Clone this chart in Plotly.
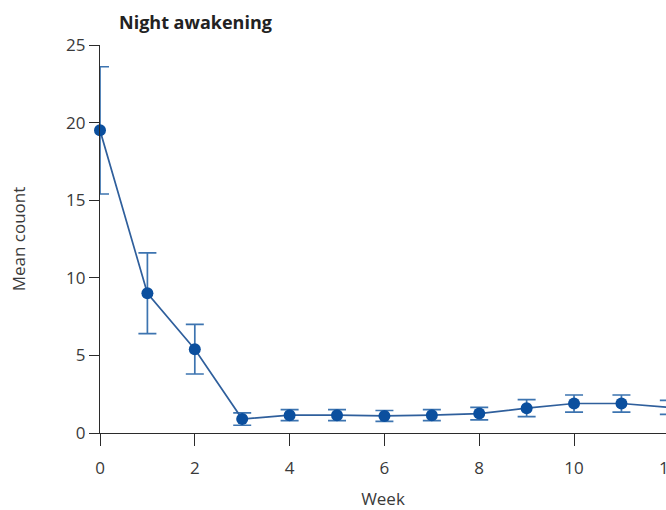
import plotly.graph_objects as go

# Mean count of night awakenings per week with error bars
weeks = [0, 1, 2, 3, 4, 5, 6, 7, 8, 9, 10, 11, 12]
mean_count = [19.5, 9.0, 5.4, 0.9, 1.15, 1.15, 1.1, 1.15, 1.25, 1.6, 1.9, 1.9, 1.65]
err_upper = [4.1, 2.6, 1.6, 0.4, 0.35, 0.35, 0.35, 0.35, 0.4, 0.55, 0.55, 0.55, 0.45]
err_lower = [4.1, 2.6, 1.6, 0.4, 0.35, 0.35, 0.35, 0.35, 0.4, 0.55, 0.55, 0.55, 0.45]
x_ticks = [0, 2, 4, 6, 8, 10]
y_ticks = [0, 5, 10, 15, 20, 25]

FONT = "Open Sans"
AXIS_COLOR = "#2b2b2b"
TEXT_COLOR = "#3a3a3a"

fig = go.Figure()
fig.add_trace(go.Scatter(
    x=weeks,
    y=mean_count,
    mode="lines+markers",
    line=dict(color="#2f5f9c", width=1.7),
    marker=dict(color="#0b4f9e", size=12),
    error_y=dict(
        type="data",
        symmetric=False,
        array=err_upper,
        arrayminus=err_lower,
        color="#3d74b0",
        thickness=1.7,
        width=9,
    ),
    cliponaxis=False,
    showlegend=False,
))

x_max = 11.94

fig.update_layout(
    width=666,
    height=510,
    margin=dict(l=100, r=0, t=45, b=77),
    paper_bgcolor="white",
    plot_bgcolor="white",
    font=dict(family=FONT, size=17, color=TEXT_COLOR),
    xaxis=dict(
        range=[0, x_max],
        tickvals=x_ticks,
        ticks="outside",
        ticklen=12,
        tickwidth=1.3,
        tickcolor=AXIS_COLOR,
        showline=True,
        linecolor=AXIS_COLOR,
        linewidth=1.3,
        showgrid=False,
        zeroline=False,
        ticklabelstandoff=7,
        tickfont=dict(size=17, color=TEXT_COLOR),
        title=dict(text="Week", font=dict(size=17, color=TEXT_COLOR), standoff=16),
    ),
    yaxis=dict(
        range=[0, 25],
        tickvals=y_ticks,
        ticks="outside",
        ticklen=10,
        tickwidth=1.3,
        tickcolor=AXIS_COLOR,
        showline=True,
        linecolor=AXIS_COLOR,
        linewidth=1.3,
        showgrid=False,
        zeroline=False,
        tickfont=dict(size=17, color=TEXT_COLOR),
        title=dict(text="Mean couont", font=dict(size=17, color=TEXT_COLOR), standoff=36),
    ),
    annotations=[
        dict(
            text="<b>Night awakening</b>",
            xref="paper", yref="paper",
            x=17 / 566, y=1,
            xanchor="left", yanchor="bottom",
            yshift=9,
            showarrow=False,
            font=dict(family=FONT, size=18, color="#222222"),
        ),
        # tick label for week 12, which sits on the right edge of the page
        dict(
            text="12",
            xref="paper", yref="paper",
            x=12 / x_max, y=0,
            xanchor="center", yanchor="top",
            yshift=-21,
            showarrow=False,
            font=dict(family=FONT, size=17, color=TEXT_COLOR),
        ),
    ],
)

fig.write_html("out.html")
